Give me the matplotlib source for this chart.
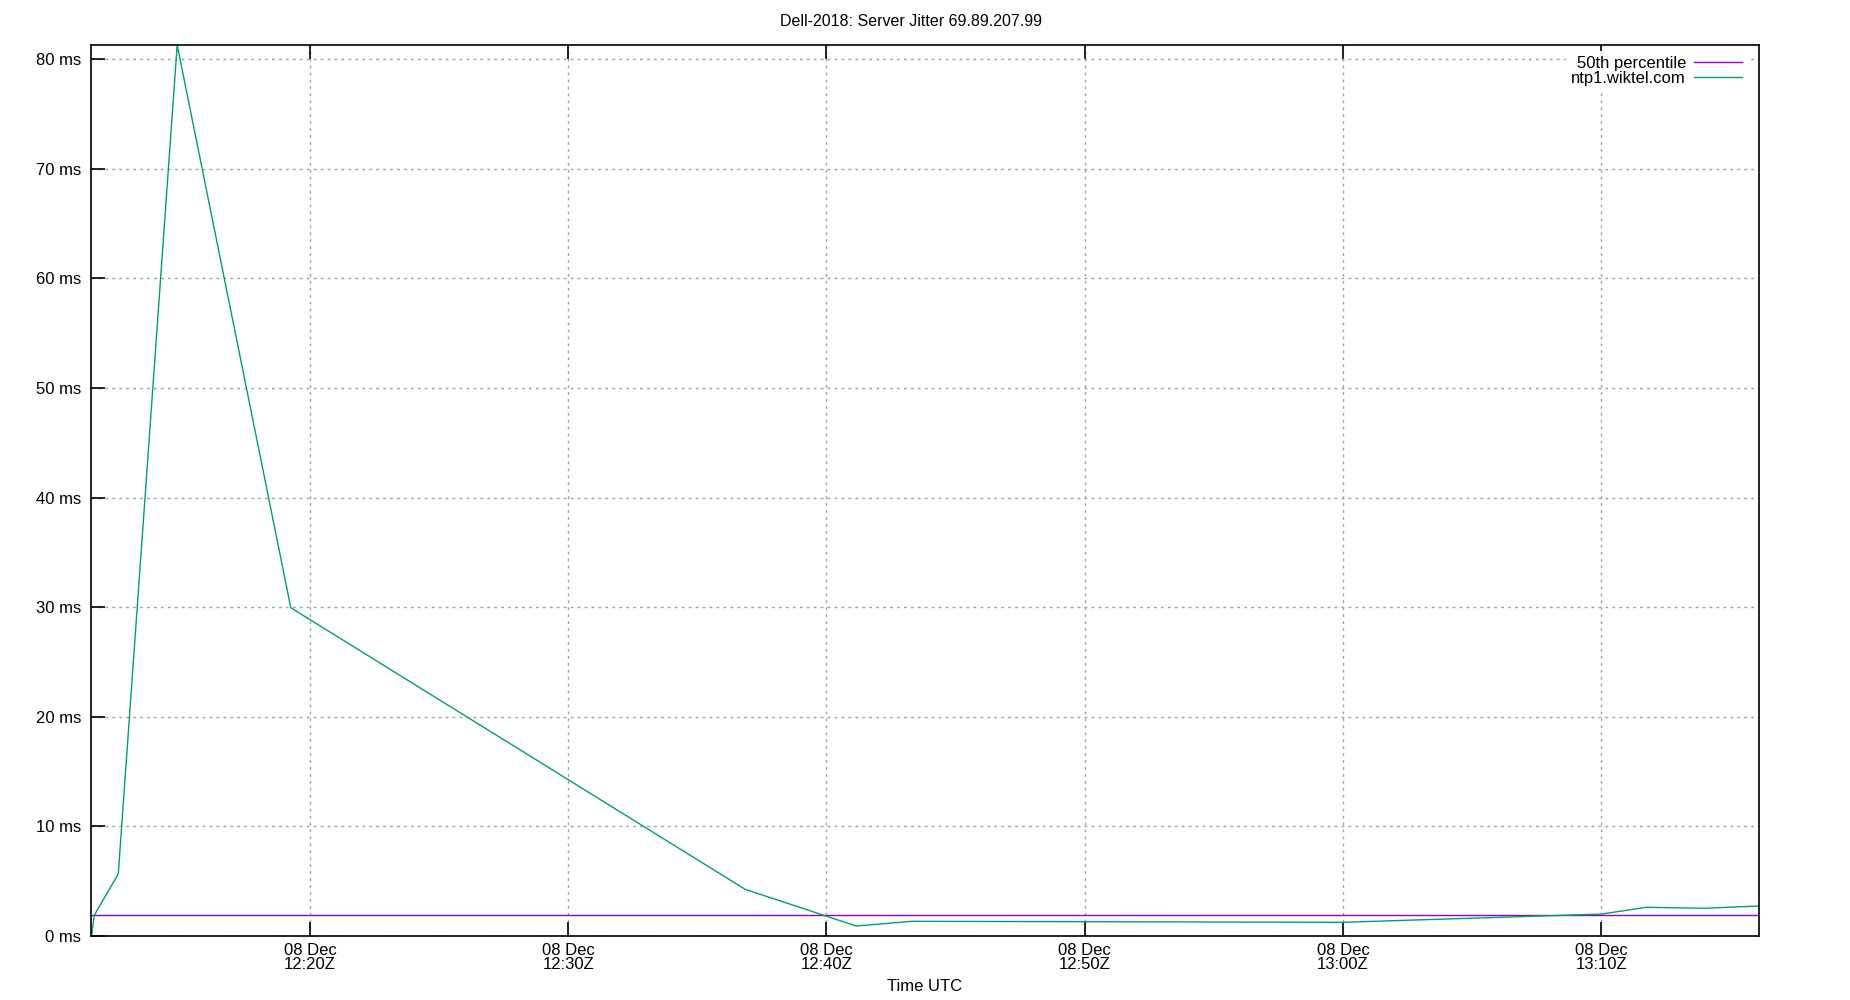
import pandas as pd
import matplotlib
matplotlib.use('Agg')
import matplotlib.pyplot as plt
import matplotlib.dates as mdates

plt.rcParams['font.family'] = ['Liberation Sans', 'DejaVu Sans']

# minutes after 08 Dec 12:20Z, jitter in ms
jitter_minutes = [-8.45, -8.35, -7.42, -5.14, -0.74, 16.85, 21.15, 23.3, 40.0, 50.0, 51.74, 54.0, 56.12]
jitter_ms = [0.1, 1.9, 5.66, 81.3, 29.95, 4.26, 0.91, 1.34, 1.25, 2.0, 2.62, 2.53, 2.74]
median_ms = 1.89
x_start_min = -8.49
x_end_min = 56.12

base = pd.Timestamp('2023-12-08 12:20:00')
times = base + pd.to_timedelta(jitter_minutes, unit='m')
t0 = base + pd.to_timedelta(x_start_min, unit='m')
t1 = base + pd.to_timedelta(x_end_min, unit='m')

fig = plt.figure(figsize=(18.5, 10), dpi=100)
ax = fig.add_axes([0.049, 0.064, 0.902, 0.891])

ax.plot([t0, t1], [median_ms, median_ms], color='#9400d3', lw=1.0, label='50th percentile')
ax.plot(times, jitter_ms, color='#009e73', lw=1.0, label='ntp1.wiktel.com')

ax.set_xlim(t0, t1)
ax.set_ylim(0, 81.3)
ax.set_yticks(range(0, 90, 10))
ax.yaxis.set_major_formatter(lambda v, p: f'{v:.0f} ms')
ax.xaxis.set_major_locator(mdates.MinuteLocator(byminute=[0, 10, 20, 30, 40, 50]))
ax.xaxis.set_major_formatter(mdates.DateFormatter('%d %b\n%H:%MZ'))

ax.grid(True, color='#a0a0a0', linestyle=(0, (2, 3)), lw=1)
ax.tick_params(axis='x', direction='in', length=10, width=1.2, top=True,
               labelsize=12, colors='black', pad=5)
ax.tick_params(axis='y', direction='in', length=10, width=1.2, right=False,
               labelsize=12, colors='black', pad=7)
for lbl in ax.get_xticklabels():
    lbl.set_linespacing(0.9)
for s in ax.spines.values():
    s.set_linewidth(1.2)

ax.set_xlabel('Time UTC', fontsize=12, labelpad=5)
fig.text(0.4925, 0.979, 'Dell-2018: Server Jitter 69.89.207.99', ha='center', va='center', fontsize=11.5)

leg = ax.legend(loc='upper right', bbox_to_anchor=(0.9925, 0.9935), markerfirst=False,
                fontsize=12, handlelength=2.9, labelspacing=0.0, borderaxespad=0.0,
                frameon=True, fancybox=False, handletextpad=0.45, borderpad=0.3)
leg.get_frame().set_edgecolor('none')
leg.get_frame().set_facecolor('white')
leg.get_frame().set_alpha(1)

fig.savefig('out.png')
